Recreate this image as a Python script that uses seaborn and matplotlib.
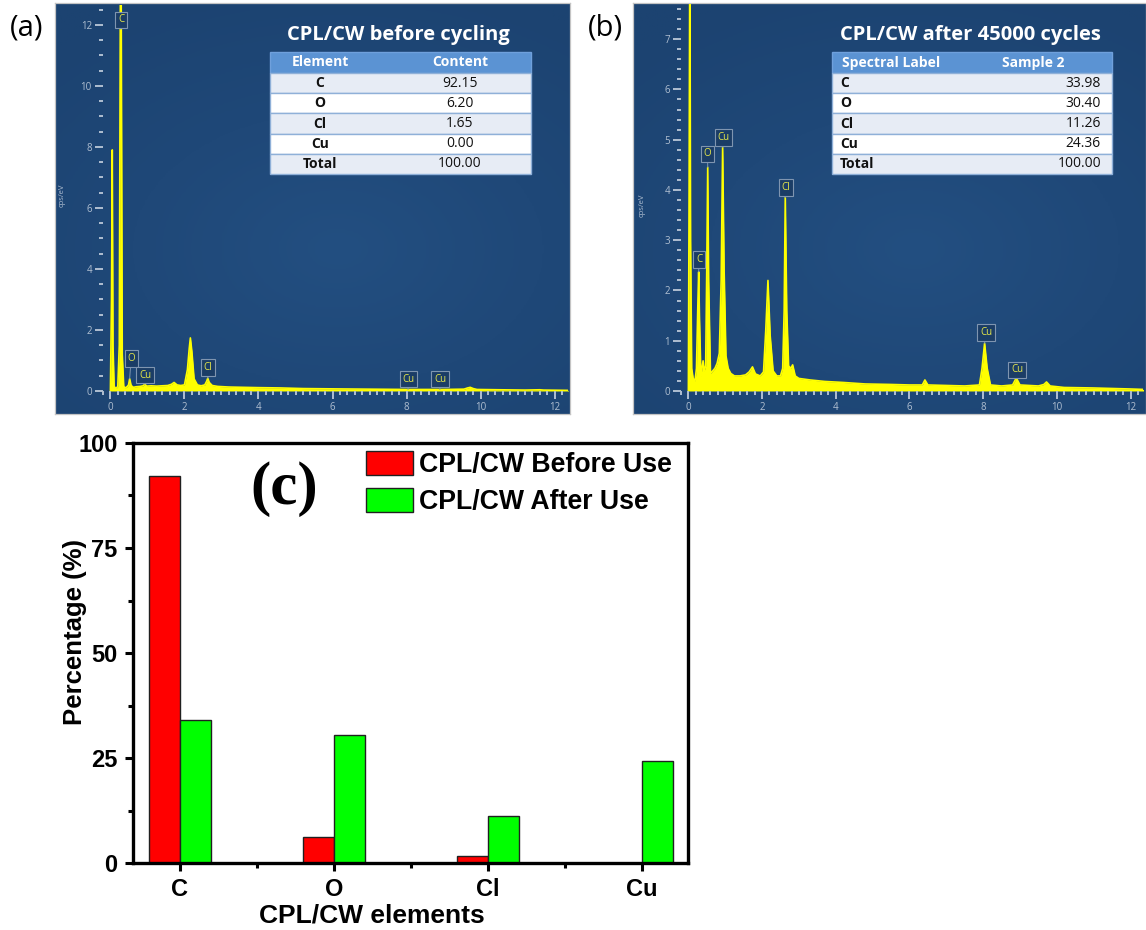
import numpy as np
import pandas as pd
import matplotlib
matplotlib.use("Agg")
import matplotlib.pyplot as plt
import seaborn as sns
from matplotlib.ticker import MultipleLocator, FixedLocator
from matplotlib.patches import Rectangle

# ---------------- data ----------------
elements = ["C", "O", "Cl", "Cu"]
before_use = [92.15, 6.20, 1.65, 0.00]
after_use = [33.98, 30.40, 11.26, 24.36]
series_names = ["CPL/CW Before Use", "CPL/CW After Use"]

title_a = "CPL/CW before cycling"
title_b = "CPL/CW after 45000 cycles"
table_a_header = ["Element", "Content"]
table_rows = ["C", "O", "Cl", "Cu", "Total"]
table_a_values = ["92.15", "6.20", "1.65", "0.00", "100.00"]
table_b_header = ["Spectral Label", "Sample 2"]
table_b_values = ["33.98", "30.40", "11.26", "24.36", "100.00"]

energy_a = [0.00, 0.03, 0.05, 0.07, 0.10, 0.15, 0.20, 0.24, 0.27, 0.29, 0.32, 0.36, 0.40, 0.45,
            0.49, 0.52, 0.56, 0.62, 0.70, 0.80, 0.88, 0.93, 0.98, 1.10, 1.25, 1.40, 1.55, 1.65,
            1.72, 1.80, 1.90, 2.00, 2.08, 2.13, 2.16, 2.20, 2.26, 2.35, 2.45, 2.55, 2.60, 2.63,
            2.67, 2.75, 2.90, 3.20, 3.60, 4.00, 4.60, 5.20, 6.00, 7.00, 8.00, 9.00, 9.55, 9.65,
            9.72, 9.80, 9.90, 10.50, 11.20, 11.60, 11.70, 12.40]
counts_a = [0.00, 3.00, 7.90, 1.50, 0.15, 0.08, 0.15, 1.50, 13.5, 13.5, 1.20, 0.15, 0.10, 0.14,
            0.20, 0.40, 0.18, 0.12, 0.14, 0.15, 0.17, 0.22, 0.16, 0.17, 0.16, 0.17, 0.18, 0.22,
            0.28, 0.20, 0.18, 0.20, 0.70, 1.40, 1.74, 1.30, 0.40, 0.20, 0.17, 0.20, 0.32, 0.42,
            0.28, 0.18, 0.15, 0.13, 0.12, 0.11, 0.10, 0.08, 0.07, 0.06, 0.05, 0.05, 0.06, 0.10,
            0.12, 0.08, 0.05, 0.04, 0.03, 0.04, 0.03, 0.02]

energy_b = [0.00, 0.02, 0.04, 0.06, 0.09, 0.13, 0.18, 0.22, 0.26, 0.28, 0.30, 0.34, 0.37, 0.40,
            0.43, 0.47, 0.50, 0.525, 0.55, 0.60, 0.66, 0.72, 0.78, 0.84, 0.89, 0.93, 0.97, 1.02,
            1.08, 1.15, 1.25, 1.40, 1.55, 1.65, 1.74, 1.82, 1.95, 2.04, 2.10, 2.16, 2.22, 2.30,
            2.40, 2.50, 2.56, 2.60, 2.63, 2.67, 2.72, 2.78, 2.83, 2.90, 3.00, 3.30, 3.70, 4.20,
            4.80, 5.50, 6.00, 6.35, 6.42, 6.50, 7.00, 7.50, 7.90, 7.97, 8.04, 8.11, 8.20, 8.50,
            8.80, 8.90, 9.00, 9.50, 9.65, 9.72, 9.82, 10.20, 11.00, 11.50, 12.00, 12.40]
counts_b = [0.00, 4.00, 9.00, 3.00, 0.45, 0.25, 0.20, 0.45, 1.80, 2.37, 1.50, 0.30, 0.45, 0.60,
            0.40, 0.50, 2.50, 4.45, 2.20, 0.35, 0.40, 0.45, 0.55, 0.75, 2.20, 4.85, 2.40, 0.70,
            0.45, 0.35, 0.30, 0.30, 0.32, 0.38, 0.48, 0.34, 0.30, 0.38, 1.20, 2.20, 1.10, 0.40,
            0.30, 0.30, 0.45, 1.60, 3.85, 1.60, 0.50, 0.45, 0.52, 0.30, 0.25, 0.22, 0.19, 0.17,
            0.14, 0.13, 0.12, 0.12, 0.22, 0.12, 0.11, 0.10, 0.12, 0.45, 0.95, 0.45, 0.12, 0.10,
            0.12, 0.26, 0.12, 0.10, 0.13, 0.18, 0.10, 0.07, 0.06, 0.05, 0.04, 0.03]

peak_names_a = ["C", "O", "Cu", "Cl", "Cu", "Cu"]
peak_energy_a = [0.28, 0.52, 0.93, 2.63, 8.04, 8.90]
peak_names_b = ["C", "O", "Cu", "Cl", "Cu", "Cu"]
peak_energy_b = [0.28, 0.525, 0.93, 2.63, 8.04, 8.90]

# ---------------- layout helpers ----------------
W, H = 1146, 930
plt.rcParams["font.family"] = ["Liberation Sans", "DejaVu Sans"]
fig = plt.figure(figsize=(W / 100, H / 100), dpi=100)


def rect(x0, y0, x1, y1):
    return [x0 / W, 1 - y1 / H, (x1 - x0) / W, (y1 - y0) / H]


TICKC = "#b0bfd1"
LBLBOX = "#1b3d66"
LBLTXT = "#e6e84a"


def spectrum_panel(bg_box, data_box, xlim, ylim, ymaj, ymin, energy, counts,
                   names, energies, label_pos):
    bg = fig.add_axes(rect(*bg_box), zorder=0)
    yy, xx = np.mgrid[0:1:200j, 0:1:200j]
    r = np.sqrt((xx - 0.55) ** 2 + ((yy - 0.6) * 1.2) ** 2)
    bg.imshow(r, cmap=matplotlib.colors.LinearSegmentedColormap.from_list(
        "p", ["#234f81", "#1f4878", "#1c4371"]), extent=[0, 1, 0, 1], aspect="auto",
        vmin=0, vmax=0.8)
    bg.set_xlim(0, 1); bg.set_ylim(0, 1)
    bg.set_xticks([]); bg.set_yticks([])
    for s in bg.spines.values():
        s.set_color("#c4c4c4"); s.set_linewidth(0.9)

    ax = fig.add_axes(rect(*data_box), zorder=1)
    ax.patch.set_alpha(0)
    ax.fill_between(energy, counts, 0, color="#ffff00", lw=0)
    sns.lineplot(x=energy, y=counts, ax=ax, color="#ffff00", linewidth=1.2)
    ax.set_xlim(*xlim); ax.set_ylim(*ylim)
    for s in ax.spines.values():
        s.set_visible(False)
    ax.xaxis.set_major_locator(MultipleLocator(2))
    ax.xaxis.set_minor_locator(MultipleLocator(0.2))
    ax.yaxis.set_major_locator(MultipleLocator(ymaj))
    ax.yaxis.set_minor_locator(MultipleLocator(ymin))
    ax.tick_params(which="major", length=5.5, width=1.4, color=TICKC, labelcolor=TICKC,
                   labelsize=7, pad=2.5)
    ax.tick_params(which="minor", length=2.8, width=1.4, color=TICKC)
    for t in ax.get_xticklabels() + ax.get_yticklabels():
        t.set_family(["Open Sans", "DejaVu Sans"])
    ax.set_xlabel(""); ax.set_ylabel("")
    for name, e, (lx, ly) in zip(names, energies, label_pos):
        top = float(np.interp(e, energy, counts))
        top = min(top, ly - 0.15 * ymaj)
        ax.annotate(name, xy=(e, top), xytext=(lx, ly), ha="center", va="center",
                    fontsize=7, color=LBLTXT, family=["Open Sans", "DejaVu Sans"],
                    bbox=dict(boxstyle="square,pad=0.28", fc=LBLBOX, ec="#7f95b0", lw=0.8),
                    arrowprops=dict(arrowstyle="-", color="#7f95b0", lw=0.7,
                                    shrinkA=0, shrinkB=0),
                    zorder=5, annotation_clip=False)
    return ax


# panel (a)
ax_a = spectrum_panel((55, 3, 570, 414), (103, 5, 567.6, 391), (-0.2, 12.35), (0, 12.65),
                      2, 0.5, energy_a, counts_a, peak_names_a, peak_energy_a,
                      [(0.29, 12.16), (0.56, 1.07), (0.94, 0.52), (2.64, 0.77),
                       (8.05, 0.39), (8.91, 0.39)])
# panel (b)
ax_b = spectrum_panel((633, 3, 1146, 414), (681, 4, 1143.4, 391), (-0.2, 12.35), (0, 7.7),
                      1, 0.2, energy_b, counts_b, peak_names_b, peak_energy_b,
                      [(0.29, 2.62), (0.52, 4.72), (0.955, 5.04), (2.64, 4.05),
                       (8.08, 1.16), (8.92, 0.42)])

# ---------------- overlay (tables, titles, labels) ----------------
ov = fig.add_axes([0, 0, 1, 1], zorder=10)
ov.set_xlim(0, W); ov.set_ylim(H, 0); ov.axis("off"); ov.patch.set_alpha(0)
OS = ["Open Sans", "DejaVu Sans"]

ov.text(27, 28, "(a)", fontsize=21, family=OS, ha="center", va="center")
ov.text(605, 28, "(b)", fontsize=21, family=OS, ha="center", va="center")
ov.text(398, 35, title_a, fontsize=14.5, family=OS, weight="bold", color="white",
        ha="center", va="center")
ov.text(970, 35, title_b, fontsize=14.5, family=OS, weight="bold", color="white",
        ha="center", va="center")
ov.text(62, 195, "cps/eV", fontsize=5.5, family=OS, color=TICKC, rotation=90,
        ha="center", va="center")
ov.text(642, 205, "cps/eV", fontsize=5.5, family=OS, color=TICKC, rotation=90,
        ha="center", va="center")


def draw_table(x0, x1, header, rows, values, kind):
    y0, hh, rh = 52, 21, 20.2
    ov.add_patch(Rectangle((x0, y0), x1 - x0, hh, fc="#5b93d3", ec="#6fa0dc", lw=1))
    for i in range(len(rows)):
        yt = y0 + hh + i * rh
        fc = "#e7ecf5" if i % 2 == 0 else "#ffffff"
        ov.add_patch(Rectangle((x0, yt), x1 - x0, rh, fc=fc, ec="#8fb0d8", lw=1))
        yc = yt + rh / 2
        if kind == "a":
            ov.text(320, yc, rows[i], fontsize=10, family=OS, weight="bold",
                    ha="center", va="center", color="#111111")
            ov.text(460, yc, values[i], fontsize=10, family=OS, ha="center",
                    va="center", color="#111111")
        else:
            ov.text(x0 + 8, yc, rows[i], fontsize=10, family=OS, weight="bold",
                    ha="left", va="center", color="#111111")
            ov.text(x1 - 11, yc, values[i], fontsize=10, family=OS, ha="right",
                    va="center", color="#111111")
    yc = y0 + hh / 2
    if kind == "a":
        ov.text(320, yc, header[0], fontsize=10, family=OS, weight="bold",
                color="white", ha="center", va="center")
        ov.text(460, yc, header[1], fontsize=10, family=OS, weight="bold",
                color="white", ha="center", va="center")
    else:
        ov.text(x0 + 10, yc, header[0], fontsize=10, family=OS, weight="bold",
                color="white", ha="left", va="center")
        ov.text(1002, yc, header[1], fontsize=10, family=OS, weight="bold",
                color="white", ha="left", va="center")


draw_table(270, 531, table_a_header, table_rows, table_a_values, "a")
draw_table(832, 1112, table_b_header, table_rows, table_b_values, "b")

ov.text(284, 489, "(c)", fontsize=44, family=["Liberation Serif", "DejaVu Serif"],
        weight="bold", ha="center", va="center")

# ---------------- panel (c) bar chart ----------------
axc = fig.add_axes(rect(133, 443, 688, 863), zorder=2)
df = pd.DataFrame({
    "element": elements * 2,
    "percentage": before_use + after_use,
    "condition": [series_names[0]] * len(elements) + [series_names[1]] * len(elements),
})
sns.barplot(data=df, x="element", y="percentage", hue="condition",
            palette=["#ff0000", "#00ff00"], width=0.4, saturation=1,
            edgecolor="#202020", linewidth=1.0, ax=axc)
axc.set_xlim(-0.305, 3.30)
axc.set_ylim(0, 100)
axc.set_yticks([0, 25, 50, 75, 100])
axc.yaxis.set_minor_locator(MultipleLocator(12.5))
axc.xaxis.set_minor_locator(FixedLocator([0.5, 1.5, 2.5]))
for s in axc.spines.values():
    s.set_linewidth(2.4); s.set_color("black"); s.set_visible(True)
axc.tick_params(which="major", length=6, width=2.2, pad=5, labelsize=17)
axc.tick_params(which="minor", length=3.5, width=2.2)
for t in axc.get_xticklabels() + axc.get_yticklabels():
    t.set_fontweight("bold")
axc.set_xlabel("CPL/CW elements", fontsize=19, fontweight="bold")
axc.set_ylabel("Percentage (%)", fontsize=18.5, fontweight="bold")
axc.xaxis.set_label_coords(0.43, -0.097)
axc.yaxis.set_label_coords(-0.083, 0.55)

handles, labels = axc.get_legend_handles_labels()
for h in handles:
    h.set_edgecolor("#202020"); h.set_linewidth(1.0)
axc.legend(handles=handles, labels=labels, loc="upper left",
           bbox_to_anchor=(366 / W, 1 - 451 / H), bbox_transform=fig.transFigure,
           frameon=False, borderpad=0, borderaxespad=0, handlelength=1.75,
           handleheight=1.0, handletextpad=0.25, labelspacing=0.38,
           prop=dict(family="Liberation Sans", weight="bold", size=19.2))

fig.savefig("out.png", dpi=100, facecolor="white")
